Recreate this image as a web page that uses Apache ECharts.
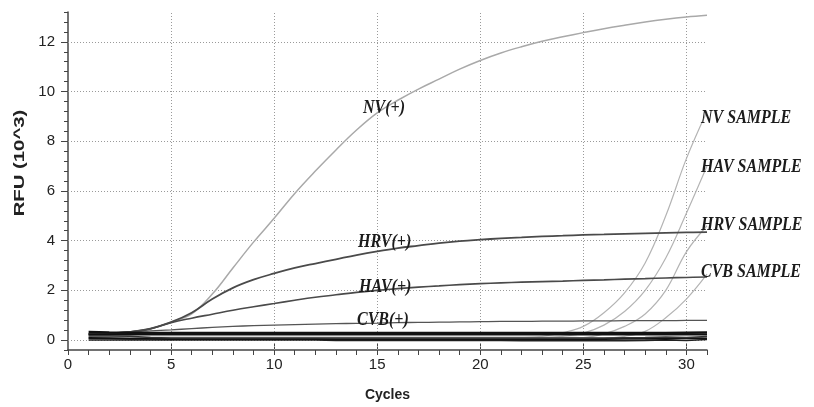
<!DOCTYPE html>
<html>
<head>
<meta charset="utf-8">
<script src="https://cdn.jsdelivr.net/npm/echarts@6/dist/echarts.min.js"></script>
<style>
html, body { margin: 0; padding: 0; background: #fff; }
#chart { width: 814px; height: 407px; }
</style>
</head>
<body>
<div id="chart"></div>
<script>
// cycle numbers (x) and RFU values (10^3)
var cycles = [1, 2, 3, 4, 5, 6, 7, 8, 9, 10, 11, 12, 13, 14, 15, 16, 17, 18, 19, 20, 21, 22, 23, 24, 25, 26, 27, 28, 29, 30, 31];

var nvPos  = [0.25, 0.27, 0.33, 0.46, 0.72, 1.05, 1.85, 2.9, 3.94, 4.9, 5.9, 6.8, 7.65, 8.45, 9.14, 9.65, 10.1, 10.5, 10.9, 11.25, 11.55, 11.8, 12.02, 12.2, 12.37, 12.53, 12.67, 12.8, 12.91, 13.0, 13.07];
var hrvPos = [0.25, 0.27, 0.33, 0.46, 0.72, 1.1, 1.65, 2.1, 2.43, 2.68, 2.9, 3.08, 3.25, 3.42, 3.57, 3.7, 3.8, 3.9, 3.98, 4.04, 4.09, 4.13, 4.17, 4.2, 4.23, 4.25, 4.27, 4.29, 4.31, 4.33, 4.34];
var havPos = [0.25, 0.27, 0.32, 0.45, 0.7, 0.88, 1.04, 1.2, 1.34, 1.47, 1.6, 1.72, 1.82, 1.92, 2.0, 2.07, 2.13, 2.18, 2.23, 2.27, 2.3, 2.33, 2.35, 2.37, 2.4, 2.42, 2.45, 2.47, 2.5, 2.52, 2.54];
var cvbPos = [0.22, 0.26, 0.33, 0.37, 0.41, 0.46, 0.51, 0.55, 0.58, 0.6, 0.62, 0.64, 0.66, 0.67, 0.68, 0.7, 0.71, 0.72, 0.73, 0.74, 0.75, 0.75, 0.76, 0.76, 0.77, 0.77, 0.78, 0.78, 0.78, 0.79, 0.79];

var nvSample  = [0.08, 0.08, 0.08, 0.08, 0.08, 0.08, 0.08, 0.08, 0.08, 0.08, 0.08, 0.08, 0.08, 0.08, 0.08, 0.08, 0.08, 0.08, 0.08, 0.09, 0.09, 0.1, 0.15, 0.3, 0.55, 1.1, 1.9, 3.1, 5.0, 7.3, 9.2];
var havSample = [0.06, 0.06, 0.06, 0.06, 0.06, 0.06, 0.06, 0.06, 0.06, 0.06, 0.06, 0.06, 0.06, 0.06, 0.06, 0.06, 0.06, 0.06, 0.06, 0.06, 0.06, 0.06, 0.08, 0.15, 0.28, 0.6, 1.15, 2.0, 3.3, 5.1, 7.0];
var hrvSample = [0.1, 0.1, 0.1, 0.1, 0.1, 0.1, 0.1, 0.1, 0.1, 0.1, 0.1, 0.1, 0.1, 0.1, 0.1, 0.1, 0.1, 0.1, 0.1, 0.1, 0.1, 0.1, 0.1, 0.08, 0.1, 0.25, 0.55, 1.05, 2.0, 3.55, 4.6];
var cvbSample = [0.12, 0.12, 0.12, 0.12, 0.12, 0.12, 0.12, 0.12, 0.12, 0.12, 0.12, 0.12, 0.12, 0.12, 0.12, 0.12, 0.12, 0.12, 0.12, 0.12, 0.12, 0.12, 0.12, 0.12, 0.1, 0.08, 0.15, 0.35, 0.9, 1.65, 2.65];

// flat traces (negatives / blanks) bunched near zero
var baseA = [0.32, 0.3, 0.29, 0.28, 0.28, 0.28, 0.28, 0.28, 0.28, 0.28, 0.28, 0.28, 0.28, 0.28, 0.28, 0.28, 0.28, 0.28, 0.28, 0.28, 0.28, 0.28, 0.28, 0.28, 0.28, 0.28, 0.28, 0.28, 0.28, 0.29, 0.3];
var baseB = [0.22, 0.22, 0.22, 0.22, 0.22, 0.22, 0.22, 0.22, 0.22, 0.22, 0.22, 0.22, 0.22, 0.22, 0.22, 0.22, 0.22, 0.22, 0.22, 0.22, 0.22, 0.22, 0.22, 0.22, 0.22, 0.22, 0.22, 0.22, 0.22, 0.22, 0.22];
var baseC = [0.16, 0.16, 0.15, 0.1, 0.08, 0.08, 0.08, 0.08, 0.08, 0.08, 0.08, 0.08, 0.08, 0.08, 0.08, 0.08, 0.08, 0.08, 0.08, 0.08, 0.08, 0.08, 0.08, 0.08, 0.08, 0.08, 0.09, 0.1, 0.12, 0.1, 0.14];
var baseD = [0.08, 0.07, 0.05, 0.05, 0.04, 0.04, 0.04, 0.04, 0.04, 0.04, 0.04, 0.04, 0.03, 0.03, 0.03, 0.03, 0.03, 0.03, 0.03, 0.03, 0.03, 0.03, 0.03, 0.03, 0.03, 0.04, 0.05, 0.06, 0.04, 0.08, 0.06];
var baseE = [0.0, 0.0, 0.0, 0.0, 0.0, 0.0, 0.0, 0.0, 0.0, 0.0, 0.0, 0.0, -0.02, -0.02, -0.02, -0.02, -0.02, -0.02, -0.02, -0.02, -0.02, -0.03, -0.03, -0.03, -0.03, -0.03, -0.03, -0.02, 0.0, -0.02, 0.02];

var xLabels = [0, 5, 10, 15, 20, 25, 30];
var yLabels = [0, 2, 4, 6, 8, 10, 12];

function pairs(values) {
    return cycles.map(function (c, i) { return [c, values[i]]; });
}

function curve(name, values, color, width, smooth) {
    return {
        name: name,
        type: 'line',
        data: pairs(values),
        showSymbol: false,
        symbol: 'none',
        smooth: smooth ? 0.4 : false,
        lineStyle: { color: color, width: width },
        silent: true
    };
}

var gridMarks = yLabels.map(function (v) { return { yAxis: v }; })
    .concat(xLabels.slice(1).map(function (v) { return { xAxis: v }; }));

var series = [
    curve('NV SAMPLE', nvSample, '#b4b4b4', 1.2, true),
    curve('HAV SAMPLE', havSample, '#b4b4b4', 1.2, true),
    curve('HRV SAMPLE', hrvSample, '#b4b4b4', 1.2, true),
    curve('CVB SAMPLE', cvbSample, '#b4b4b4', 1.2, true),
    curve('NV(+)', nvPos, '#a9a9a9', 1.5, true),
    curve('CVB(+)', cvbPos, '#555', 1.3, true),
    curve('HAV(+)', havPos, '#4a4a4a', 1.6, true),
    curve('HRV(+)', hrvPos, '#4a4a4a', 1.8, true),
    curve('base E', baseE, '#222', 1.5, false),
    curve('base D', baseD, '#111', 2, false),
    curve('base C', baseC, '#333', 1.5, false),
    curve('base B', baseB, '#111', 2, false),
    curve('base A', baseA, '#111', 2.5, false)
];

series[0].markLine = {
    silent: true,
    symbol: 'none',
    z: 1,
    label: { show: false },
    lineStyle: { color: '#9a9a9a', width: 1, type: [1, 2] },
    data: gridMarks
};

var tagFont = 'italic bold 16px "Liberation Serif", "DejaVu Serif", serif';
function tag(text, x, y) {
    return {
        type: 'text', x: x, y: y, scaleY: 1.2, silent: true, z: 20,
        style: { text: text, font: tagFont, fill: '#1c1c1c', align: 'left', verticalAlign: 'middle' }
    };
}

var axisColor = '#444';
var labelStyle = { fontSize: 15, color: '#222', fontFamily: '"Liberation Sans", Arial, sans-serif' };

var chart = echarts.init(document.getElementById('chart'));
chart.setOption({
    animation: false,
    backgroundColor: '#fff',
    grid: { left: 68, right: 107, top: 12, bottom: 55 },
    xAxis: [{
        type: 'value', min: 0, max: 31, interval: 1,
        axisLine: { show: true, onZero: false, lineStyle: { color: axisColor, width: 1.5 } },
        axisTick: { show: true, length: 5, lineStyle: { color: axisColor } },
        axisLabel: Object.assign({ customValues: xLabels, margin: 7 }, labelStyle),
        splitLine: { show: false },
        name: 'Cycles', nameLocation: 'middle', nameGap: 38,
        nameTextStyle: { fontWeight: 'bold', fontSize: 14, color: '#222', fontFamily: '"Liberation Sans", Arial, sans-serif' }
    }, {
        type: 'value', min: 0, max: 31, position: 'bottom',
        axisLine: { show: false, onZero: false },
        axisTick: { show: true, inside: true, length: 6, customValues: xLabels.slice(1), lineStyle: { color: axisColor } },
        axisLabel: { show: false },
        splitLine: { show: false }
    }],
    yAxis: [{
        type: 'value', min: -0.4, max: 13.2, interval: 0.4,
        axisLine: { show: true, onZero: false, lineStyle: { color: axisColor, width: 1.5 } },
        axisTick: { show: true, length: 4, lineStyle: { color: axisColor } },
        axisLabel: Object.assign({ customValues: yLabels, margin: 13 }, labelStyle),
        splitLine: { show: false }
    }, {
        type: 'value', min: -0.4, max: 13.2, position: 'left',
        axisLine: { show: false, onZero: false },
        axisTick: { show: true, length: 7, customValues: yLabels, lineStyle: { color: axisColor } },
        axisLabel: { show: false },
        splitLine: { show: false }
    }],
    series: series,
    graphic: [
        {
            type: 'text', x: 20, y: 163, rotation: Math.PI / 2, scaleX: 1.45, silent: true,
            style: { text: 'RFU (10^3)', font: 'bold 14px "Liberation Sans", Arial, sans-serif', fill: '#222', align: 'center', verticalAlign: 'middle' }
        },
        tag('NV(+)', 363, 108),
        tag('HRV(+)', 358, 242),
        tag('HAV(+)', 359, 287),
        tag('CVB(+)', 357, 320),
        tag('NV SAMPLE', 701, 118),
        tag('HAV SAMPLE', 701, 167),
        tag('HRV SAMPLE', 701, 225),
        tag('CVB SAMPLE', 701, 272)
    ]
});
</script>
</body>
</html>
